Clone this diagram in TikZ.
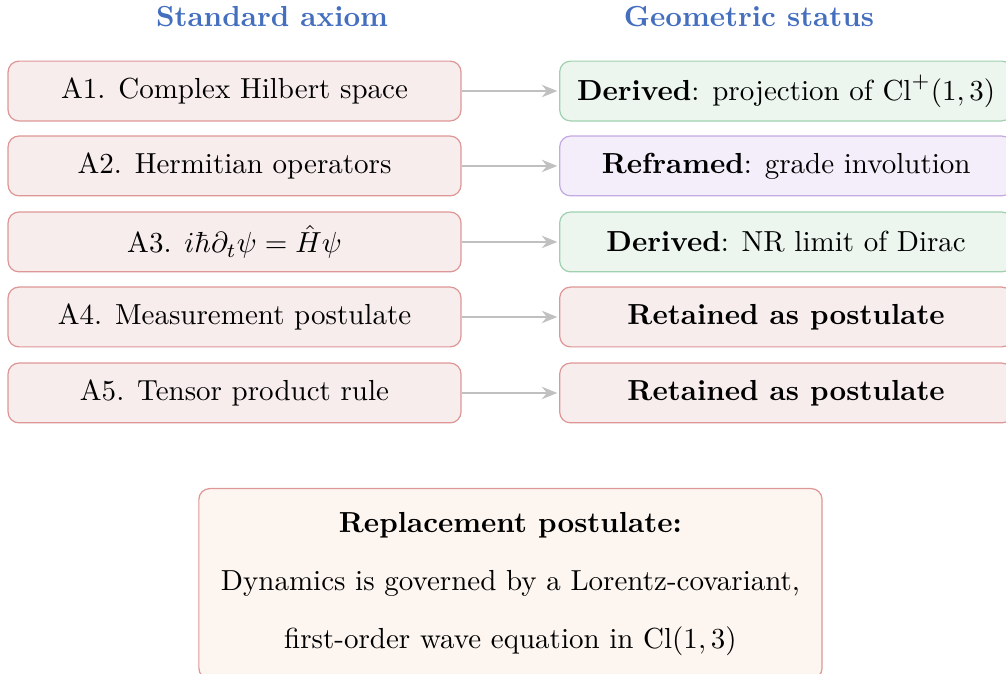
\documentclass[tikz,border=0pt]{standalone}
\usetikzlibrary{arrows.meta}
\definecolor{hdrblue}{RGB}{68,110,190}
\definecolor{redfill}{RGB}{248,237,237}
\definecolor{redline}{RGB}{222,150,150}
\definecolor{greenfill}{RGB}{236,246,239}
\definecolor{greenline}{RGB}{160,208,176}
\definecolor{purplefill}{RGB}{243,238,250}
\definecolor{purpleline}{RGB}{196,170,226}
\definecolor{replfill}{RGB}{253,246,240}
\definecolor{arrgray}{RGB}{192,192,192}
\begin{document}
\begin{tikzpicture}[
    every node/.style={scale=0.945},
    box/.style={draw,rounded corners=3.5pt,minimum width=156.1pt,minimum height=20.6pt,line width=0.4pt,inner sep=0pt},
    axiom/.style={box,fill=redfill,draw=redline},
    derived/.style={box,fill=greenfill,draw=greenline},
    reframed/.style={box,fill=purplefill,draw=purpleline},
    retained/.style={box,fill=redfill,draw=redline},
    hdr/.style={text=hdrblue,font=\bfseries},
    arr/.style={-{Stealth[length=5pt,width=4pt]},draw=arrgray,line width=0.9pt,shorten >=0.6pt}]
  \useasboundingbox (0,0) rectangle (11.517,-7.716);
  \node [hdr] (hdrleft) at (3.114,-0.195) {Standard axiom};
  \node [hdr] (hdrright) at (8.575,-0.195) {Geometric status};
  \node [axiom] (a1) at (2.685,-1.042) {A1. Complex Hilbert space};
  \node [axiom] (a2) at (2.685,-1.900) {A2. Hermitian operators};
  \node [axiom] (a3) at (2.685,-2.770) {A3. $i\hbar\partial_t\psi=\hat{H}\psi$};
  \node [axiom] (a4) at (2.685,-3.629) {A4. Measurement postulate};
  \node [axiom] (a5) at (2.685,-4.499) {A5. Tensor product rule};
  \node [derived] (s1) at (9.000,-1.042) {\textbf{Derived}: projection of $\mathrm{Cl}^{+}(1,3)$};
  \node [reframed] (s2) at (9.000,-1.900) {\textbf{Reframed}: grade involution};
  \node [derived] (s3) at (9.000,-2.770) {\textbf{Derived}: NR limit of Dirac};
  \node [retained] (s4) at (9.000,-3.629) {\textbf{Retained as postulate}};
  \node [retained] (s5) at (9.000,-4.499) {\textbf{Retained as postulate}};
  \foreach \i in {1,...,5}
    \draw [arr] (a\i) -- (s\i);
  % the box runs past the bottom edge
  \node [draw=redline,fill=replfill,rounded corners=3.5pt,line width=0.4pt,
         minimum width=214.8pt,minimum height=65.6pt,anchor=north,align=center,inner sep=0pt]
    (repl) at (5.844,-5.587)
    {\textbf{Replacement postulate:}\\[8pt]
     Dynamics is governed by a Lorentz-covariant,\\[8pt]
     first-order wave equation in $\mathrm{Cl}(1,3)$};
\end{tikzpicture}
\end{document}
